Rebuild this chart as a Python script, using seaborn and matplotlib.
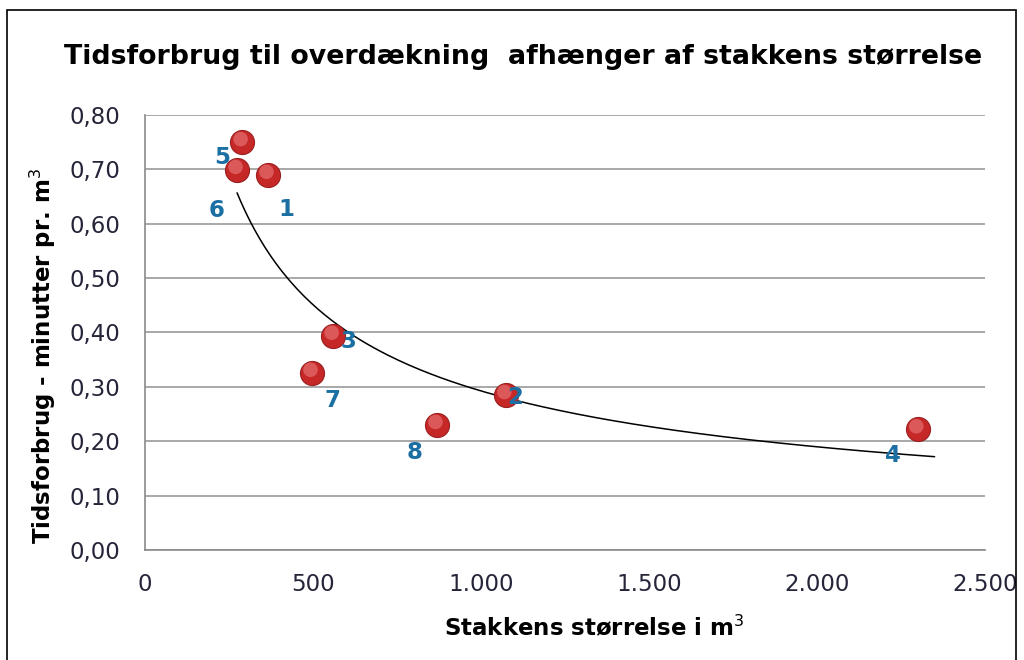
import numpy as np
import pandas as pd
import seaborn as sns
import matplotlib.pyplot as plt
from matplotlib.transforms import offset_copy

# data
stak_nr = ["1", "2", "3", "4", "5", "6", "7", "8"]
stoerrelse = [366, 1074, 560, 2300, 289, 274, 497, 869]
tidsforbrug = [0.69, 0.285, 0.394, 0.222, 0.75, 0.699, 0.326, 0.23]
x_ticks = [0, 500, 1000, 1500, 2000, 2500]
x_ticklabels = ["0", "500", "1.000", "1.500", "2.000", "2.500"]
y_ticks = [0.0, 0.1, 0.2, 0.3, 0.4, 0.5, 0.6, 0.7, 0.8]
y_ticklabels = ["0,00", "0,10", "0,20", "0,30", "0,40", "0,50", "0,60", "0,70", "0,80"]

df = pd.DataFrame({"nr": stak_nr, "x": stoerrelse, "y": tidsforbrug})

# label offsets in points (dx, dy) relative to each point
label_pos = {"1": (13.5, -25), "2": (6.5, -2), "3": (11, -4), "4": (-18, -19),
             "5": (-14, -11), "6": (-14.5, -29), "7": (14.5, -20), "8": (-16, -20)}

sns.set_style("white")
plt.rcParams["font.family"] = ["DejaVu Sans"]

fig = plt.figure(figsize=(10.24, 6.6), dpi=100)
ax = fig.add_axes([0.1416, 0.1667, 0.8203, 0.6591])

# power trendline fitted on the data
b, loga = np.polyfit(np.log(df["x"]), np.log(df["y"]), 1)
xs = np.linspace(df["x"].min(), 2350, 200)
ax.plot(xs, np.exp(loga) * xs ** b, color="black", lw=1.1, zorder=2)

sns.scatterplot(data=df, x="x", y="y", ax=ax, s=300, color="#c62828",
                edgecolor="#9a1f1f", linewidth=0.8, zorder=3, legend=False)
hl = offset_copy(ax.transData, fig=fig, x=-1.5, y=3, units="dots")
ax.scatter(df["x"], df["y"], s=110, color="#ec7a7a", edgecolor="none",
           alpha=0.6, zorder=4, transform=hl)

for _, r in df.iterrows():
    dx, dy = label_pos[r["nr"]]
    ax.annotate(r["nr"], (r["x"], r["y"]), xytext=(dx, dy), textcoords="offset points",
                ha="center", va="center", fontsize=16.5, fontweight="bold",
                color="#1b6fa3", zorder=5)

ax.set_xlim(0, 2500)
ax.set_ylim(0, 0.8)
ax.set_xticks(x_ticks)
ax.set_xticklabels(x_ticklabels)
ax.set_yticks(y_ticks)
ax.set_yticklabels(y_ticklabels)
ax.tick_params(axis="both", labelsize=16.5, labelcolor="#25253a", color="#8a8a8a",
               width=1.2, direction="out")
ax.tick_params(axis="y", length=10, pad=8)
ax.tick_params(axis="x", length=4.5, pad=12)
ax.grid(axis="y", color="#9a9a9a", lw=1.2)
ax.set_axisbelow(True)
for s in ["top", "right"]:
    ax.spines[s].set_visible(False)
for s in ["left", "bottom"]:
    ax.spines[s].set_color("#8a8a8a")
    ax.spines[s].set_linewidth(1.2)

ax.set_xlabel("Stakkens størrelse i m$^3$", fontsize=16.5, fontweight="bold", color="black")
ax.xaxis.set_label_coords(0.535, -0.148)
ax.set_ylabel("Tidsforbrug - minutter pr. m$^3$", fontsize=16.5, fontweight="bold", color="black")
ax.yaxis.set_label_coords(-0.103, 0.447)
fig.text(0.511, 0.914, "Tidsforbrug til overdækning  afhænger af stakkens størrelse",
         ha="center", va="center", fontsize=19.3, fontweight="bold", color="black")

fig.patches.append(plt.Rectangle((0.0068, -0.05), 0.985, 1.035, transform=fig.transFigure,
                                 fill=False, edgecolor="black", lw=1.2))

fig.savefig("out.png", dpi=100)
